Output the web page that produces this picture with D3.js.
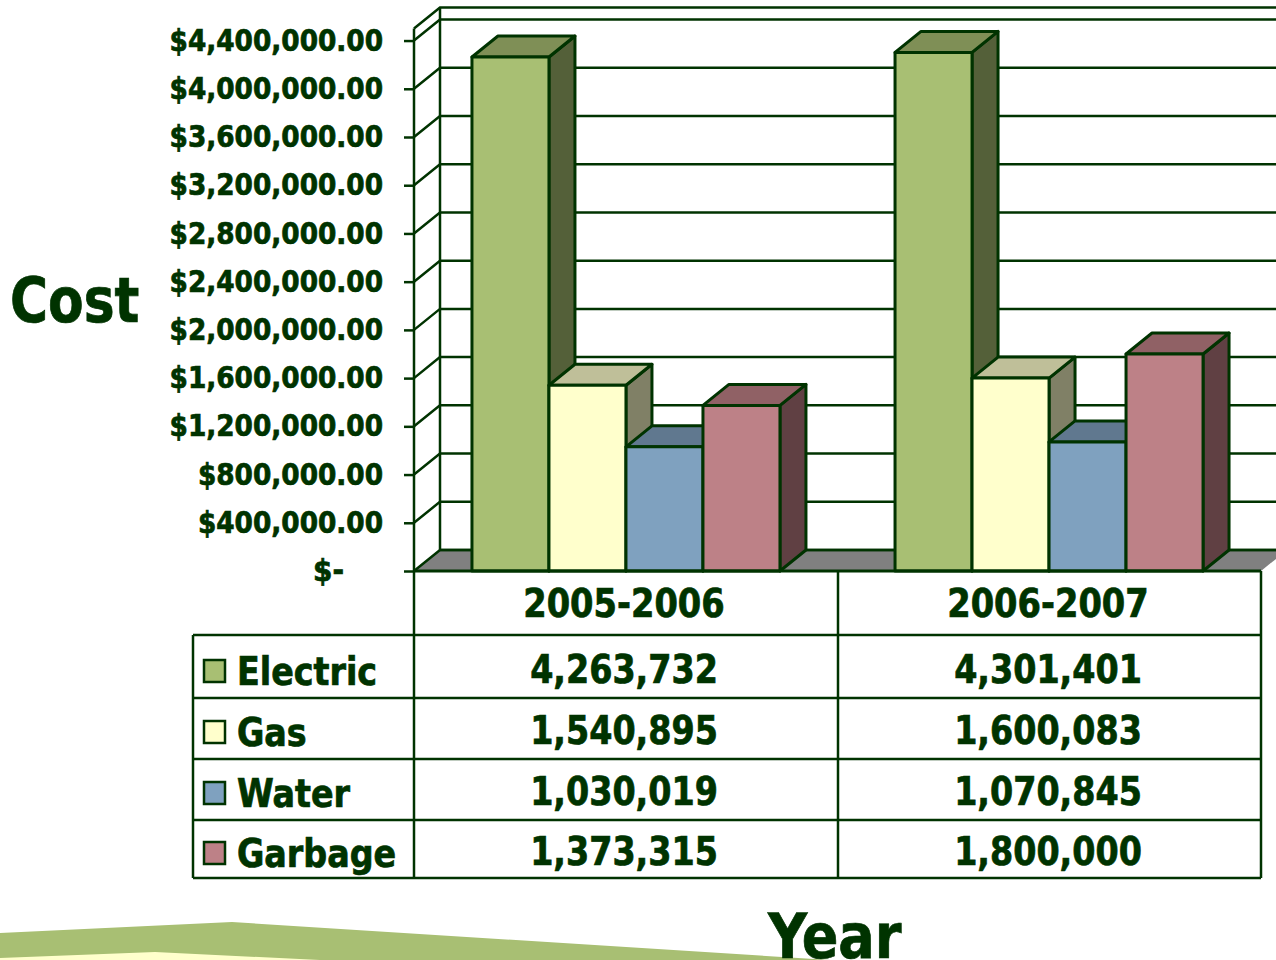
<!DOCTYPE html>
<html><head><meta charset="utf-8">
<script src="https://cdnjs.cloudflare.com/ajax/libs/d3/7.8.5/d3.min.js"></script>
<style>html,body{margin:0;padding:0;background:#fff;overflow:hidden}
svg{display:block}
text{font-family:"DejaVu Sans Condensed","DejaVu Sans",sans-serif;font-weight:bold;fill:#003300;stroke:#003300;stroke-width:.7px}</style>
</head><body><svg id="c" width="1276" height="960"></svg>
<script>
const years = ["2005-2006","2006-2007"];
const seriesNames = ["Electric","Gas","Water","Garbage"];
const electric = [4263732,4301401];
const gas = [1540895,1600083];
const water = [1030019,1070845];
const garbage = [1373315,1800000];
const allSeries = [electric,gas,water,garbage];
const tickValues = [0,400000,800000,1200000,1600000,2000000,2400000,2800000,3200000,3600000,4000000,4400000];
const frontColors = ["#A8BF73","#FFFFCC","#7FA1BF","#BD8187"];
const topColors = ["#7F8F56","#BFBF99","#60788F","#906165"];
const sideColors = ["#546039","#808066","#405060","#604043"];

const INK="#003300", dx=26, dy=21;
const svg=d3.select("#c");
const y=d3.scaleLinear().domain([0,4500000]).range([571,28.5]);
const x0=d3.scaleBand().domain(years).range([414,1261]).paddingInner(.272).paddingOuter(.137);
const x1=d3.scaleBand().domain(seriesNames).range([0,x0.bandwidth()]);
const line=d3.line();
const poly=(pts,fill,sw=3)=>svg.append("path").attr("d",line(pts)+"Z").attr("fill",fill).attr("stroke",INK).attr("stroke-width",sw).attr("stroke-linejoin","round");
const seg=(pts,sw=2.5)=>svg.append("path").attr("d",line(pts)).attr("fill","none").attr("stroke",INK).attr("stroke-width",sw);
// horizontally squeeze a text to the reference's narrower letterforms
const squeeze=(sel,f)=>sel.each(function(){this.setAttribute("textLength",this.getComputedTextLength()*f);this.setAttribute("lengthAdjust","spacingAndGlyphs");});

// background swoosh
svg.append("path").attr("d","M0,933L232,922L830,960L0,960Z").attr("fill","#A8BF73");
svg.append("path").attr("d","M0,958L155,952L320,960L0,960Z").attr("fill","#FFFFCC");

// floor
const X0=414,X1=1261,Y0=y(0);
svg.append("path").attr("d",line([[X0,Y0],[X0+dx,Y0-dy],[X1+dx,Y0-dy],[X1,Y0]])+"Z").attr("fill","#808080");
seg([[X0+dx,Y0-dy],[X1+dx,Y0-dy]]);
// walls and grid
tickValues.concat([4500000]).forEach(v=>{
  seg([[X0,y(v)],[X0+dx,y(v)-dy],[X1+dx,y(v)-dy]]);
});
seg([[X0,Y0],[X0,y(4500000)]]);
seg([[X0+dx,Y0-dy],[X0+dx,y(4500000)-dy]]);

// axis
const axis=d3.axisLeft(y).tickValues(tickValues).tickSize(10).tickPadding(21)
  .tickFormat(v=>v===0?"$-":"$"+d3.format(",.2f")(v));
const ag=svg.append("g").attr("transform","translate(414,0)").call(axis);
ag.select(".domain").remove();
ag.selectAll(".tick line").attr("stroke",INK).attr("stroke-width",2.5);
const labels=ag.selectAll(".tick text").attr("font-size",31).attr("fill",INK).attr("dy","0.31em");
labels.filter(d=>d===0).attr("dx",-39);
squeeze(labels.filter(d=>d!==0),.945);

// bars
years.forEach((yr,i)=>{
  seriesNames.forEach((s,j)=>{
    const v=allSeries[j][i],l=x0(yr)+x1(s),r=l+x1.bandwidth(),t=y(v),b=y(0);
    poly([[r,t],[r+dx,t-dy],[r+dx,b-dy],[r,b]],sideColors[j]);
    poly([[l,t],[l+dx,t-dy],[r+dx,t-dy],[r,t]],topColors[j]);
    poly([[l,t],[r,t],[r,b],[l,b]],frontColors[j]);
  });
});

// data table
const rowY=[571,635,698,759,820,878], colX=[193,414,838,1261];
seg([[X0,571],[X1,571]],3);
seg([[X0,571],[X0,635]]);seg([[838,571],[838,635]]);seg([[1261,571],[1261,635]]);
rowY.slice(1).forEach(ry=>seg([[193,ry],[1261,ry]]));
colX.forEach(cx=>seg([[cx,635],[cx,878]]));
const center=[624,1048];
years.forEach((yr,i)=>squeeze(svg.append("text").attr("x",center[i]).attr("y",617).attr("text-anchor","middle").attr("font-size",39).text(yr),.96));
const rowBase=[685,746,807,867];
seriesNames.forEach((s,j)=>{
  svg.append("rect").attr("x",204).attr("y",rowBase[j]-25).attr("width",21).attr("height",22)
    .attr("fill",frontColors[j]).attr("stroke",INK).attr("stroke-width",2.5);
  squeeze(svg.append("text").attr("x",237).attr("y",rowBase[j]).attr("font-size",39).text(s),.95);
  years.forEach((yr,i)=>squeeze(svg.append("text").attr("x",center[i]).attr("y",rowBase[j]-2).attr("text-anchor","middle").attr("font-size",39).text(d3.format(",")(allSeries[j][i])),.95));
});
// titles
squeeze(svg.append("text").attr("x",10).attr("y",322).attr("font-size",62).text("Cost"),.93);
squeeze(svg.append("text").attr("x",768).attr("y",958).attr("font-size",62).text("Year"),.97);
</script></body></html>
